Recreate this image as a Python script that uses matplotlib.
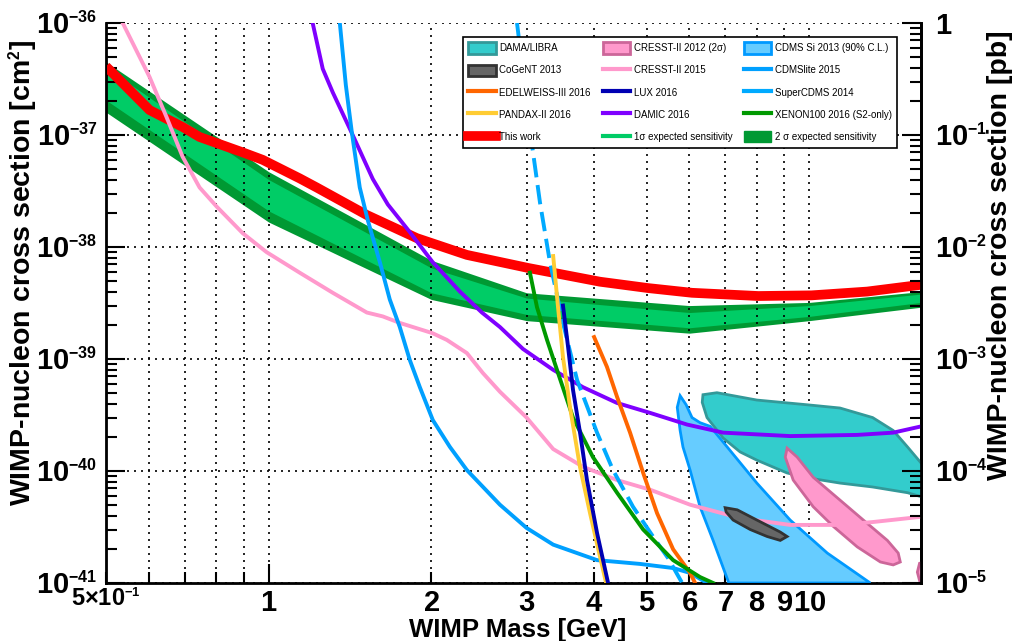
import numpy as np
import matplotlib
matplotlib.use("Agg")
import matplotlib.pyplot as plt
import matplotlib._mathtext as mathtext_mod
from matplotlib.patches import Patch
from matplotlib.lines import Line2D
from matplotlib.ticker import LogLocator, NullFormatter

plt.rcParams['font.family'] = ['Liberation Sans', 'DejaVu Sans']
plt.rcParams['mathtext.fontset'] = 'custom'
plt.rcParams['mathtext.rm'] = 'Liberation Sans:bold'
plt.rcParams['mathtext.it'] = 'Liberation Sans:bold:italic'
plt.rcParams['mathtext.bf'] = 'Liberation Sans:bold'
# smaller exponents, closer to the ROOT look
mathtext_mod.SHRINK_FACTOR = 0.55

# %% data (mass in GeV, cross section in cm^2)
band_mass = [0.5, 1.0, 2.0, 3.0, 6.0, 10.0, 16.1]
two_sig_hi = [4.5e-37, 4.7e-38, 7.6e-39, 3.9e-39, 3.0e-39, 3.2e-39, 4.0e-39]
one_sig_hi = [4.0e-37, 4.0e-38, 6.5e-39, 3.5e-39, 2.6e-39, 3.0e-39, 3.8e-39]
one_sig_lo = [2.05e-37, 2.1e-38, 3.9e-39, 2.5e-39, 1.9e-39, 2.4e-39, 3.2e-39]
two_sig_lo = [1.6e-37, 1.67e-38, 3.4e-39, 2.2e-39, 1.7e-39, 2.2e-39, 2.9e-39]

this_mass = [0.5, 0.602, 0.693, 0.745, 0.895, 0.975, 1.141, 1.227, 1.519, 1.88, 2.326,
             3.02, 4.10, 5.03, 6.07, 8.05, 10.1, 12.8, 16.1]
this_xs = [4.1e-37, 1.67e-37, 1.18e-37, 9.6e-38, 7.0e-38, 6.0e-38, 4.1e-38, 3.4e-38, 1.93e-38,
           1.2e-38, 8.5e-39, 6.5e-39, 4.9e-39, 4.3e-39, 3.9e-39, 3.65e-39, 3.7e-39, 4.0e-39, 4.6e-39]

cresst15_mass = [0.537, 0.602, 0.647, 0.693, 0.745, 0.801, 0.895, 0.991, 1.141, 1.314, 1.519,
                 1.626, 1.748, 2.01, 2.136, 2.326, 2.49, 2.678, 3.0, 3.36, 3.815, 4.41, 5.08,
                 6.02, 7.45, 9.22, 11.4, 13.1, 16.1]
cresst15_xs = [1.0e-36, 3.3e-37, 1.45e-37, 6.4e-38, 3.4e-38, 2.3e-38, 1.33e-38, 9.0e-39, 5.9e-39,
               3.9e-39, 2.6e-39, 2.4e-39, 2.1e-39, 1.7e-39, 1.48e-39, 1.13e-39, 7.5e-40, 5.1e-40,
               3.0e-40, 1.57e-40, 1.09e-40, 8.3e-41, 6.8e-41, 5.0e-41, 3.8e-41, 3.3e-41, 3.3e-41,
               3.5e-41, 3.9e-41]

damic_mass = [1.206, 1.259, 1.314, 1.425, 1.558, 1.661, 1.824, 2.012, 2.258, 2.48, 2.678, 2.954,
              3.36, 3.815, 4.41, 5.08, 5.94, 6.93, 9.22, 12.27, 14.3, 16.1]
damic_xs = [1.0e-36, 3.9e-37, 2.4e-37, 1.04e-37, 4.05e-38, 2.4e-38, 1.36e-38, 7.3e-39, 4.0e-39,
            2.6e-39, 1.93e-39, 1.23e-39, 8.0e-40, 5.6e-40, 4.05e-40, 3.3e-40, 2.6e-40, 2.2e-40,
            2.05e-40, 2.1e-40, 2.2e-40, 2.5e-40]

cdmslite_mass = [1.354, 1.389, 1.425, 1.474, 1.525, 1.606, 1.675, 1.748, 1.824, 1.904, 2.012,
                 2.164, 2.326, 2.678, 3.0, 3.36, 4.05, 4.864, 5.60, 6.02, 6.47]
cdmslite_xs = [1.0e-36, 2.8e-37, 1.06e-37, 3.4e-38, 1.74e-38, 7.3e-39, 3.4e-39, 1.93e-39, 9.8e-40,
               5.6e-40, 2.85e-40, 1.64e-40, 1.02e-40, 5.0e-41, 3.1e-41, 2.2e-41, 1.6e-41, 1.48e-41,
               1.36e-41, 1.23e-41, 1.0e-41]

supercdms_mass = [2.88, 2.967, 3.043, 3.176, 3.314, 3.503, 3.72, 4.05, 4.335, 4.72, 5.14, 5.48, 5.82]
supercdms_xs = [1.0e-36, 3.1e-37, 1.11e-37, 2.5e-38, 7.3e-39, 2.1e-39, 6.5e-40, 2.2e-40, 1.02e-40,
                4.8e-41, 2.6e-41, 1.67e-41, 1.0e-41]

pandax_mass = [3.36, 3.43, 3.503, 3.61, 3.767, 3.931, 4.102, 4.21]
pandax_xs = [8.3e-39, 2.9e-39, 1.04e-39, 3.7e-40, 1.08e-40, 4.2e-41, 1.71e-41, 1.0e-41]

lux_mass = [3.503, 3.58, 3.656, 3.767, 3.88, 4.05, 4.245]
lux_xs = [3.0e-39, 1.28e-39, 5.3e-40, 2.2e-40, 8.3e-41, 2.8e-41, 1.0e-41]

xenon_mass = [3.043, 3.136, 3.273, 3.43, 3.656, 3.98, 4.41, 4.93, 5.60, 6.28, 6.64]
xenon_xs = [5.9e-39, 2.9e-39, 1.48e-39, 7.5e-40, 3.0e-40, 1.33e-40, 6.4e-41, 3.0e-41, 1.6e-41,
            1.13e-41, 1.0e-41]

edelweiss_mass = [4.0, 4.225, 4.41, 4.662, 4.93, 5.23, 5.60, 6.02, 6.15]
edelweiss_xs = [1.57e-39, 8.5e-40, 4.6e-40, 2.2e-40, 9.6e-41, 4.2e-41, 2.0e-41, 1.23e-41, 1.0e-41]

cdmssi_mass = [5.70, 5.77, 5.92, 6.07, 6.28, 6.56, 7.05, 8.0, 9.22, 10.8, 12.97, 7.1,
               6.64, 6.28, 6.02, 5.84, 5.77]
cdmssi_xs = [3.7e-40, 4.7e-40, 3.9e-40, 3.0e-40, 2.7e-40, 2.5e-40, 1.64e-40, 7.8e-41, 3.65e-41,
             1.85e-41, 1.0e-41, 1.0e-41, 2.4e-41, 4.8e-41, 1.02e-40, 1.64e-40, 2.3e-40]

dama_mass = [6.36, 6.75, 8.0, 9.92, 11.4, 13.1, 14.3, 15.2, 16.1, 16.6, 16.6, 16.1, 15.2, 13.1,
             11.4, 9.92, 9.10, 8.0, 7.45, 6.93, 6.47, 6.34]
dama_xs = [4.8e-40, 5.0e-40, 4.3e-40, 3.9e-40, 3.65e-40, 3.0e-40, 2.3e-40, 1.64e-40, 1.18e-40,
           1.05e-40, 5.5e-41, 5.9e-41, 6.4e-41, 7.2e-41, 7.8e-41, 8.7e-41, 9.6e-41, 1.25e-40,
           1.48e-40, 1.97e-40, 3.0e-40, 4.1e-40]

cresst12_mass = [9.10, 9.50, 10.17, 11.4, 12.81, 13.95, 14.61, 14.74, 14.3, 13.54, 12.27, 11.08,
                 10.17, 9.34, 9.03]
cresst12_xs = [1.6e-40, 1.33e-40, 8.8e-41, 5.5e-41, 3.4e-41, 2.4e-41, 1.85e-41, 1.54e-41, 1.45e-41,
               1.54e-41, 2.1e-41, 3.2e-41, 4.8e-41, 8.3e-41, 1.33e-40]
cresst12b_mass = [16.0, 15.85, 16.0, 17.0, 17.0]
cresst12b_xs = [1.5e-41, 1.25e-41, 1.05e-41, 1.0e-41, 1.6e-41]

cogent_mass = [6.99, 7.36, 8.0, 8.84, 9.10, 8.84, 8.36, 7.78, 7.23, 7.02]
cogent_xs = [4.7e-41, 4.5e-41, 3.65e-41, 2.85e-41, 2.6e-41, 2.4e-41, 2.6e-41, 3.0e-41, 3.65e-41, 4.3e-41]

xtick_minor = [0.5, 0.6, 0.7, 0.8, 0.9, 2, 3, 4, 5, 6, 7, 8, 9]
xtick_minor_labels = [r'$5{\times}10^{-1}$', '', '', '', '', '$2$', '$3$', '$4$', '$5$', '$6$', '$7$', '$8$', '$9$']
xtick_major = [1, 10]
xtick_major_labels = ['$1$', '$10$']
ytick_left = [1e-41, 1e-40, 1e-39, 1e-38, 1e-37, 1e-36]
ytick_left_labels = ['$10^{-41}$', '$10^{-40}$', '$10^{-39}$', '$10^{-38}$', '$10^{-37}$', '$10^{-36}$']
ytick_right = [1e-5, 1e-4, 1e-3, 1e-2, 1e-1, 1]
ytick_right_labels = ['$10^{-5}$', '$10^{-4}$', '$10^{-3}$', '$10^{-2}$', '$10^{-1}$', '$1$']

# %% colours
c_dama, c_dama_e = '#33cccc', '#339999'
c_cogent, c_cogent_e = '#666666', '#333333'
c_edel = '#ff6600'
c_pandax = '#ffcc33'
c_this = '#ff0000'
c_cresst, c_cresst_e = '#ff99cc', '#cc6699'
c_lux = '#0000b3'
c_damic = '#7f00ff'
c_1sig = '#00cc66'
c_2sig = '#009933'
c_cdmssi, c_cdmssi_e = '#66ccff', '#0099ff'
c_cdmslite = '#00a0ff'
c_supercdms = '#00aaff'
c_xenon = '#009900'

fig = plt.figure(figsize=(10.13, 6.41), dpi=100)
ax = fig.add_axes([0.1046, 0.0905, 0.8046, 0.8736])

ax.fill_between(band_mass, two_sig_lo, two_sig_hi, color=c_2sig, lw=0, zorder=2)
ax.fill_between(band_mass, one_sig_lo, one_sig_hi, color=c_1sig, lw=0, zorder=2)
ax.plot(this_mass, this_xs, color=c_this, lw=7, solid_capstyle='butt', zorder=3)

ax.fill(dama_mass, dama_xs, facecolor=c_dama, edgecolor=c_dama_e, lw=2, zorder=4)
ax.fill(cdmssi_mass, cdmssi_xs, facecolor=c_cdmssi, edgecolor=c_cdmssi_e, lw=2, zorder=4)
ax.fill(cresst12_mass, cresst12_xs, facecolor=c_cresst, edgecolor=c_cresst_e, lw=2, zorder=4)
ax.fill(cresst12b_mass, cresst12b_xs, facecolor=c_cresst, edgecolor=c_cresst_e, lw=2, zorder=4)

lw = 2.8
ax.plot(cresst15_mass, cresst15_xs, color=c_cresst, lw=lw, zorder=5)
ax.plot(damic_mass, damic_xs, color=c_damic, lw=lw, zorder=5)
ax.plot(cdmslite_mass, cdmslite_xs, color=c_cdmslite, lw=lw, zorder=5)
ax.plot(supercdms_mass, supercdms_xs, color=c_supercdms, lw=lw, dashes=(5, 2), zorder=5)
ax.plot(edelweiss_mass, edelweiss_xs, color=c_edel, lw=lw, zorder=5)
ax.plot(xenon_mass, xenon_xs, color=c_xenon, lw=lw, zorder=5)
ax.plot(pandax_mass, pandax_xs, color=c_pandax, lw=lw, zorder=5)
ax.plot(lux_mass, lux_xs, color=c_lux, lw=lw, zorder=5)
ax.fill(cogent_mass, cogent_xs, facecolor=c_cogent, edgecolor=c_cogent_e, lw=2, zorder=6)

ax.set_xscale('log')
ax.set_yscale('log')
ax.set_xlim(0.5, 16.1)
ax.set_ylim(1e-41, 1e-36)

ax.set_xticks(xtick_major, xtick_major_labels)
ax.set_xticks(xtick_minor, xtick_minor_labels, minor=True)
ax.set_yticks(ytick_left, ytick_left_labels)
ax.yaxis.set_minor_locator(LogLocator(base=10, subs=np.arange(2, 10), numticks=30))
ax.yaxis.set_minor_formatter(NullFormatter())
ax.tick_params(which='both', direction='in', top=False, right=False, width=1.5,
               labelsize=21, pad=6)
ax.tick_params(which='major', length=14)
ax.tick_params(which='minor', length=8)
ax.tick_params(axis='x', which='both', pad=4)
ax.get_xticklabels(minor=True)[0].set_fontsize(17)

grid_kw = dict(color='black', lw=1.2, linestyle=(0, (1.2, 3)))
ax.grid(True, which='both', axis='x', **grid_kw)
ax.grid(True, which='major', axis='y', **grid_kw)
ax.set_axisbelow(False)
for gl in ax.get_xgridlines() + ax.get_ygridlines():
    gl.set_zorder(1)

ax.spines['top'].set_visible(False)
for s in ['left', 'bottom', 'right']:
    ax.spines[s].set_linewidth(2)

ax.set_xlabel('WIMP Mass [GeV]', fontsize=18.5, fontweight='bold')
ax.xaxis.set_label_coords(0.505, -0.062)
ax.xaxis.label.set_va('top')
ax.set_ylabel('WIMP-nucleon cross section [cm$^{2}$]', fontsize=20.5, fontweight='bold')
ax.yaxis.set_label_coords(-0.1, 0.97)
ax.yaxis.label.set_ha('right')
ax.yaxis.label.set_va('center')

ax2 = ax.twinx()
ax2.set_yscale('log')
ax2.set_ylim(1e-5, 1)
ax2.set_yticks(ytick_right, ytick_right_labels)
ax2.yaxis.set_minor_locator(LogLocator(base=10, subs=np.arange(2, 10), numticks=30))
ax2.yaxis.set_minor_formatter(NullFormatter())
ax2.tick_params(which='both', direction='in', width=1.5, labelsize=21, pad=10)
ax2.tick_params(which='major', length=14)
ax2.tick_params(which='minor', length=8)
ax2.spines['top'].set_visible(False)
ax2.spines['right'].set_linewidth(2)
ax2.set_ylabel('WIMP-nucleon cross section [pb]', fontsize=20.5, fontweight='bold')
ax2.yaxis.set_label_coords(1.0975, 0.987)
ax2.yaxis.label.set_ha('right')
ax2.yaxis.label.set_va('center')

handles = [
    Patch(facecolor=c_dama, edgecolor=c_dama_e, lw=2),
    Patch(facecolor=c_cogent, edgecolor=c_cogent_e, lw=2),
    Line2D([], [], color=c_edel, lw=3),
    Line2D([], [], color=c_pandax, lw=3),
    Line2D([], [], color=c_this, lw=7),
    Patch(facecolor=c_cresst, edgecolor=c_cresst_e, lw=2),
    Line2D([], [], color=c_cresst, lw=3),
    Line2D([], [], color=c_lux, lw=3),
    Line2D([], [], color=c_damic, lw=3),
    Line2D([], [], color=c_1sig, lw=3),
    Patch(facecolor=c_cdmssi, edgecolor=c_cdmssi_e, lw=2),
    Line2D([], [], color=c_cdmslite, lw=3),
    Line2D([], [], color=c_supercdms, lw=3),
    Line2D([], [], color=c_xenon, lw=3),
    Patch(facecolor=c_2sig, edgecolor=c_2sig, lw=1),
]
labels = ['DAMA/LIBRA', 'CoGeNT 2013', 'EDELWEISS-III 2016', 'PANDAX-II 2016', 'This work',
          'CRESST-II 2012 (2σ)', 'CRESST-II 2015', 'LUX 2016', 'DAMIC 2016', '1σ expected sensitivity',
          'CDMS Si 2013 (90% C.L.)', 'CDMSlite 2015', 'SuperCDMS 2014', 'XENON100 2016 (S2-only)',
          '2 σ expected sensitivity']
leg = ax2.legend(handles, labels, ncol=3, loc='upper left', bbox_to_anchor=(0.438, 0.975),
                 borderaxespad=0, fontsize=7, handlelength=2.8, handleheight=1.4,
                 handletextpad=0.4, labelspacing=1.13, columnspacing=1.2, borderpad=0.55,
                 fancybox=False, framealpha=1, edgecolor='black')
leg.get_frame().set_linewidth(1.2)

fig.savefig('out.png', dpi=100)
